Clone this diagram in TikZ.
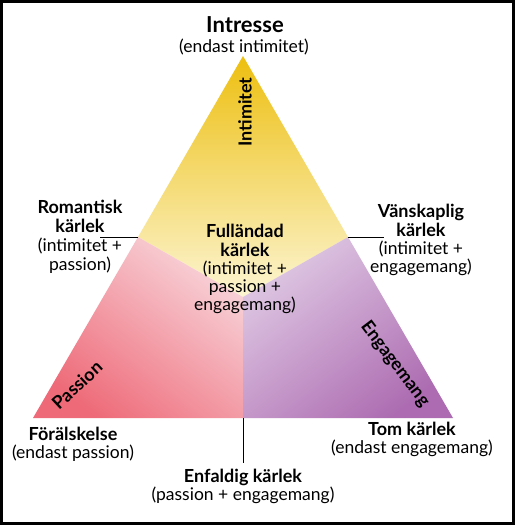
\documentclass[tikz,border=0pt]{standalone}
\usepackage{fontspec}
\setmainfont{Lato}
\definecolor{ygold}{HTML}{EDBF10}
\definecolor{ypale}{HTML}{FCF5D2}
\definecolor{plight}{HTML}{F8D4DA}
\definecolor{pdark}{HTML}{EE6A78}
\definecolor{vlight}{HTML}{DFC9E4}
\definecolor{vdark}{HTML}{AD6CB1}
\tikzset{
  bl/.style={font=\fontsize{18}{21}\selectfont\bfseries, anchor=base, inner sep=0pt},
  rg/.style={font=\fontsize{17.5}{21}\selectfont, anchor=base, inner sep=0pt},
  side/.style={font=\fontsize{18}{21}\selectfont\bfseries, inner sep=0pt},
  conn/.style={draw=black, line width=0.8pt}
}
\begin{document}
\begin{tikzpicture}[x=1pt,y=-1pt]
\useasboundingbox (0,0) rectangle (515,525);
\fill[white] (0,0) rectangle (515,525);
% triangle geometry
\coordinate (A) at (243,56);
\coordinate (L) at (33,418);
\coordinate (R) at (453,418);
\coordinate (C) at (243,297);
\coordinate (ML) at (138,237);
\coordinate (MR) at (348,237);
\coordinate (MB) at (243,418);
% regions
\shade[top color=ygold, bottom color=ypale] (A) -- (MR) -- (C) -- (ML) -- cycle;
\shade[top color=plight, bottom color=pdark, shading angle=-38] (ML) -- (C) -- (MB) -- (L) -- cycle;
\shade[top color=vlight, bottom color=vdark, shading angle=38] (MR) -- (C) -- (MB) -- (R) -- cycle;
% connector ends
\coordinate (romEnd) at (100,237);
\coordinate (vanEnd) at (384,237);
\coordinate (enfEnd) at (243,463);
\draw[conn] (romEnd) -- (ML);
\draw[conn] (MR) -- (vanEnd);
\draw[conn] (MB) -- (enfEnd);
% top label
\node[font=\fontsize{22}{26}\selectfont\bfseries, anchor=base, inner sep=0pt] (int1) at (245,32) {Intresse};
\node[rg] (int2) at (244,52) {(endast intimitet)};
% romantisk
\node[bl] (rom1) at (80,213) {Romantisk};
\node[bl] (rom2) at (80,232) {kärlek};
\node[rg] (rom3) at (80,251) {(intimitet +};
\node[rg] (rom4) at (80,270) {passion)};
% vanskaplig
\node[bl] (van1) at (421,217) {Vänskaplig};
\node[bl] (van2) at (421,236) {kärlek};
\node[rg] (van3) at (421,254) {(intimitet +};
\node[rg] (van4) at (421,272) {engagemang)};
% fullandad
\node[bl] (ful1) at (245,237) {Fulländad};
\node[bl] (ful2) at (245,256) {kärlek};
\node[rg] (ful3) at (245,274) {(intimitet +};
\node[rg] (ful4) at (245,292) {passion +};
\node[rg] (ful5) at (245,310) {engagemang)};
% forälskelse
\node[bl] (for1) at (73,440) {Förälskelse};
\node[rg] (for2) at (73,458) {(endast passion)};
% tom
\node[bl] (tom1) at (412,435) {Tom kärlek};
\node[rg] (tom2) at (412,453) {(endast engagemang)};
% enfaldig
\node[bl] (enf1) at (243,482) {Enfaldig kärlek};
\node[rg] (enf2) at (243,500) {(passion + engagemang)};
% side labels
\node[side, rotate=90] (sInt) at (245,112) {Intimitet};
\node[side, rotate=43] (sPas) at (77,385) {Passion};
\node[side, rotate=-53] (sEng) at (395,364) {Engagemang};
% frame
\draw[line width=3pt] (1.5,1.5) rectangle (513.5,523.5);
\end{tikzpicture}
\end{document}
